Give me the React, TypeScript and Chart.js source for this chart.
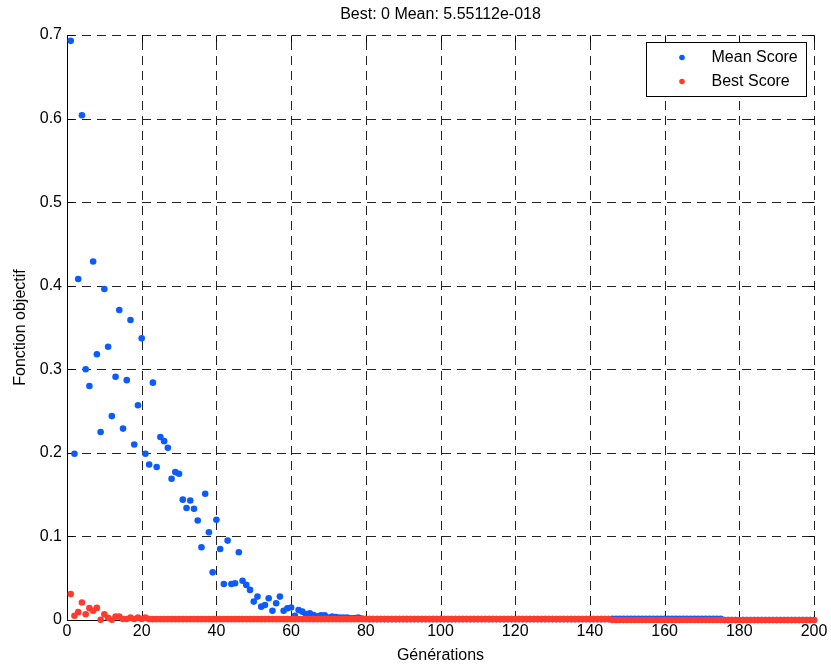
import { useEffect, useRef } from "react";
import { Chart, registerables } from "chart.js";

Chart.register(...registerables);

// Generation index (1..200) for both score series
const generations: number[] = Array.from({ length: 200 }, (_, i) => i + 1);

// Mean score of the population at each generation
const meanScore: number[] = [
  0.693, 0.199, 0.408, 0.604, 0.300, 0.280, 0.429, 0.318, 0.225, 0.396,
  0.327, 0.244, 0.291, 0.371, 0.229, 0.287, 0.359, 0.210, 0.257, 0.337,
  0.199, 0.186, 0.284, 0.183, 0.219, 0.214, 0.206, 0.169, 0.177, 0.175,
  0.144, 0.134, 0.143, 0.133, 0.119, 0.087, 0.151, 0.105, 0.057, 0.120,
  0.085, 0.043, 0.095, 0.043, 0.044, 0.081, 0.047, 0.042, 0.036, 0.022,
  0.028, 0.016, 0.018, 0.026, 0.011, 0.020, 0.028, 0.011, 0.014, 0.015,
  0.005, 0.012, 0.010, 0.007, 0.008, 0.006, 0.0044, 0.0056, 0.0056, 0.0028,
  0.0040, 0.0035, 0.0028, 0.0030, 0.0030, 0.0020, 0.0024, 0.0030, 0.0016, 0.0012,
  0.0011, 0.0011, 0.0011, 0.0011, 0.0011, 0.0011, 0.0011, 0.0011, 0.0011, 0.0011,
  0.0011, 0.0011, 0.0011, 0.0011, 0.0011, 0.0011, 0.0011, 0.0011, 0.0011, 0.0011,
  0.0011, 0.0011, 0.0011, 0.0011, 0.0011, 0.0011, 0.0011, 0.0011, 0.0011, 0.0011,
  0.0011, 0.0011, 0.0011, 0.0011, 0.0011, 0.0011, 0.0011, 0.0011, 0.0011, 0.0011,
  0.0011, 0.0011, 0.0011, 0.0011, 0.0011, 0.0011, 0.0011, 0.0011, 0.0011, 0.0011,
  0.0011, 0.0011, 0.0011, 0.0011, 0.0011, 0.0011, 0.0011, 0.0011, 0.0011, 0.0011,
  0.0011, 0.0011, 0.0011, 0.0011, 0.0011, 0.0014, 0.0014, 0.0014, 0.0014, 0.0014,
  0.0014, 0.0014, 0.0014, 0.0014, 0.0014, 0.0014, 0.0014, 0.0014, 0.0014, 0.0014,
  0.0014, 0.0014, 0.0014, 0.0014, 0.0014, 0.0014, 0.0014, 0.0014, 0.0014, 0.0014,
  0.0014, 0.0014, 0.0014, 0.0014, 0.0014, 0, 0, 0, 0, 0,
  0, 0, 0, 0, 0, 0, 0, 0, 0, 0,
  0, 0, 0, 0, 0, 0, 0, 0, 0, 0,
];

// Best score found at each generation
const bestScore: number[] = [
  0.031, 0.005, 0.0094, 0.021, 0.0068, 0.0142, 0.011, 0.0145, 0.0002, 0.0068,
  0.0026, 0.0003, 0.004, 0.004, 0.0012, 0.0012, 0.0028, 0.0012, 0.0028, 0.0012,
  0.0028, 0.001, 0.001, 0.001, 0.001, 0.001, 0.001, 0.001, 0.001, 0.001,
  0.001, 0.001, 0.001, 0.001, 0.001, 0.001, 0.001, 0.001, 0.001, 0.001,
  0.001, 0.001, 0.001, 0.001, 0.001, 0.001, 0.001, 0.001, 0.001, 0.001,
  0.001, 0.001, 0.001, 0.001, 0.001, 0.001, 0.001, 0.001, 0.001, 0.001,
  0.001, 0.001, 0.001, 0.001, 0.001, 0.001, 0.001, 0.001, 0.001, 0.001,
  0.001, 0.001, 0.001, 0.001, 0.001, 0.001, 0.001, 0.001, 0.001, 0.001,
  0.001, 0.001, 0.001, 0.001, 0.001, 0.001, 0.001, 0.001, 0.001, 0.001,
  0.001, 0.001, 0.001, 0.001, 0.001, 0.001, 0.001, 0.001, 0.001, 0.001,
  0.001, 0.001, 0.001, 0.001, 0.001, 0.001, 0.001, 0.001, 0.001, 0.001,
  0.001, 0.001, 0.001, 0.001, 0.001, 0.001, 0.001, 0.001, 0.001, 0.001,
  0.001, 0.001, 0.001, 0.001, 0.001, 0.001, 0.001, 0.001, 0.001, 0.001,
  0.001, 0.001, 0.001, 0.001, 0.001, 0.001, 0.001, 0.001, 0.001, 0.001,
  0.001, 0.001, 0.001, 0.001, 0.001, 0, 0, 0, 0, 0,
  0, 0, 0, 0, 0, 0, 0, 0, 0, 0,
  0, 0, 0, 0, 0, 0, 0, 0, 0, 0,
  0, 0, 0, 0, 0, 0, 0, 0, 0, 0,
  0, 0, 0, 0, 0, 0, 0, 0, 0, 0,
  0, 0, 0, 0, 0, 0, 0, 0, 0, 0,
];

const xTickValues: number[] = [0, 20, 40, 60, 80, 100, 120, 140, 160, 180, 200];
const yTickValues: number[] = [0, 0.1, 0.2, 0.3, 0.4, 0.5, 0.6, 0.7];
const yTickLabels: string[] = ["0", "0.1", "0.2", "0.3", "0.4", "0.5", "0.6", "0.7"];

const titleText = "Best: 0 Mean: 5.55112e-018";
const xAxisTitle = "Générations";
const yAxisTitle = "Fonction objectif";
const seriesNames: string[] = ["Mean Score", "Best Score"];

const FONT_FAMILY = '"Liberation Sans", Arial, Helvetica, sans-serif';
const BLUE = "#0b5bff";
const RED = "#ff3b2e";
const GRID_DASH = [9, 6];

// Dashed grid, solid left/bottom axes and inward tick marks on every side
const framePlugin = {
  id: "matlabFrame",
  beforeDatasetsDraw(chart: any) {
    const { ctx, chartArea } = chart;
    const xs = chart.scales.x;
    const ys = chart.scales.y;
    const { left, right, top, bottom } = chartArea;
    const al = (v: number) => Math.round(v) + 0.5;
    ctx.save();
    ctx.lineWidth = 1;
    ctx.strokeStyle = "#222";
    ctx.setLineDash(GRID_DASH);
    for (const v of xTickValues) {
      const px = al(xs.getPixelForValue(v));
      ctx.beginPath();
      ctx.moveTo(px, bottom);
      ctx.lineTo(px, top);
      ctx.stroke();
    }
    for (const v of yTickValues) {
      const py = al(ys.getPixelForValue(v));
      ctx.beginPath();
      ctx.moveTo(left, py);
      ctx.lineTo(right, py);
      ctx.stroke();
    }
    ctx.setLineDash([]);
    ctx.strokeStyle = "#000";
    // axis lines
    ctx.beginPath();
    ctx.moveTo(al(left), top);
    ctx.lineTo(al(left), al(bottom));
    ctx.lineTo(right, al(bottom));
    ctx.stroke();
    // tick marks
    const tl = 6;
    for (const v of xTickValues) {
      const px = al(xs.getPixelForValue(v));
      ctx.beginPath();
      ctx.moveTo(px, al(bottom));
      ctx.lineTo(px, al(bottom) - tl);
      ctx.moveTo(px, al(top));
      ctx.lineTo(px, al(top) + tl);
      ctx.stroke();
    }
    for (const v of yTickValues) {
      const py = al(ys.getPixelForValue(v));
      ctx.beginPath();
      ctx.moveTo(al(left), py);
      ctx.lineTo(al(left) + tl, py);
      ctx.moveTo(al(right), py);
      ctx.lineTo(al(right) - tl, py);
      ctx.stroke();
    }
    ctx.restore();
  },
  afterDraw(chart: any) {
    const { ctx, chartArea } = chart;
    const cx = (chartArea.left + chartArea.right) / 2;
    const cy = (chartArea.top + chartArea.bottom) / 2;
    ctx.save();
    ctx.fillStyle = "#000";
    ctx.font = `16px ${FONT_FAMILY}`;
    ctx.textAlign = "center";
    ctx.textBaseline = "middle";
    ctx.fillText(titleText, cx, 15);
    ctx.fillText(xAxisTitle, cx, 656);
    ctx.save();
    ctx.translate(21, cy);
    ctx.rotate(-Math.PI / 2);
    ctx.fillText(yAxisTitle, 0, 0);
    ctx.restore();

    // legend box
    const bx = 646.5, by = 42.5, bw = 160, bh = 54;
    ctx.fillStyle = "#fff";
    ctx.fillRect(bx, by, bw, bh);
    ctx.strokeStyle = "#000";
    ctx.lineWidth = 1;
    ctx.strokeRect(bx, by, bw, bh);
    const colors = [BLUE, RED];
    const rows = [57.5, 81.5];
    ctx.textAlign = "left";
    seriesNames.forEach((name, i) => {
      ctx.fillStyle = colors[i];
      ctx.beginPath();
      ctx.arc(682, rows[i], 2.8, 0, Math.PI * 2);
      ctx.fill();
      ctx.fillStyle = "#000";
      ctx.fillText(name, 711.5, rows[i]);
    });
    ctx.restore();
  },
};

export default function App() {
  const canvasRef = useRef<HTMLCanvasElement | null>(null);

  useEffect(() => {
    document.body.style.margin = "0";
    const canvas = canvasRef.current;
    if (!canvas) return;
    const toPoints = (vals: number[]) => generations.map((g, i) => ({ x: g, y: vals[i] }));
    const chart = new Chart(canvas, {
      type: "scatter",
      data: {
        datasets: [
          {
            label: seriesNames[0],
            data: toPoints(meanScore),
            backgroundColor: BLUE,
            pointRadius: 3.3,
            pointBorderWidth: 0,
            borderWidth: 0,
            order: 1,
            clip: false as any,
          },
          {
            label: seriesNames[1],
            data: toPoints(bestScore),
            backgroundColor: RED,
            pointRadius: 3.3,
            pointBorderWidth: 0,
            borderWidth: 0,
            order: 0,
            clip: false as any,
          },
        ],
      },
      options: {
        responsive: false,
        animation: false,
        devicePixelRatio: 1,
        layout: { padding: { top: 35, right: 17, left: 0, bottom: 0 } },
        plugins: {
          legend: { display: false },
          title: { display: false },
          tooltip: { enabled: false },
        },
        scales: {
          x: {
            type: "linear",
            min: 0,
            max: 200,
            afterFit: (s: any) => {
              s.height = 48;
            },
            afterBuildTicks: (s: any) => {
              s.ticks = xTickValues.map((v) => ({ value: v }));
            },
            grid: { display: false, drawTicks: false },
            border: { display: false },
            ticks: {
              color: "#000",
              padding: 2,
              maxRotation: 0,
              autoSkip: false,
              font: { family: FONT_FAMILY, size: 16 },
              callback: (v: any) => String(v),
            },
          },
          y: {
            type: "linear",
            min: 0,
            max: 0.7,
            afterFit: (s: any) => {
              s.width = 67;
            },
            afterBuildTicks: (s: any) => {
              s.ticks = yTickValues.map((v) => ({ value: v }));
            },
            grid: { display: false, drawTicks: false },
            border: { display: false },
            ticks: {
              color: "#000",
              padding: 5,
              autoSkip: false,
              font: { family: FONT_FAMILY, size: 16 },
              callback: (_v: any, i: number) => yTickLabels[i],
            },
          },
        },
      },
      plugins: [framePlugin],
    });
    return () => chart.destroy();
  }, []);

  return (
    <div style={{ width: 831, height: 668, background: "#fff" }}>
      <canvas ref={canvasRef} width={831} height={668} style={{ display: "block" }} />
    </div>
  );
}
